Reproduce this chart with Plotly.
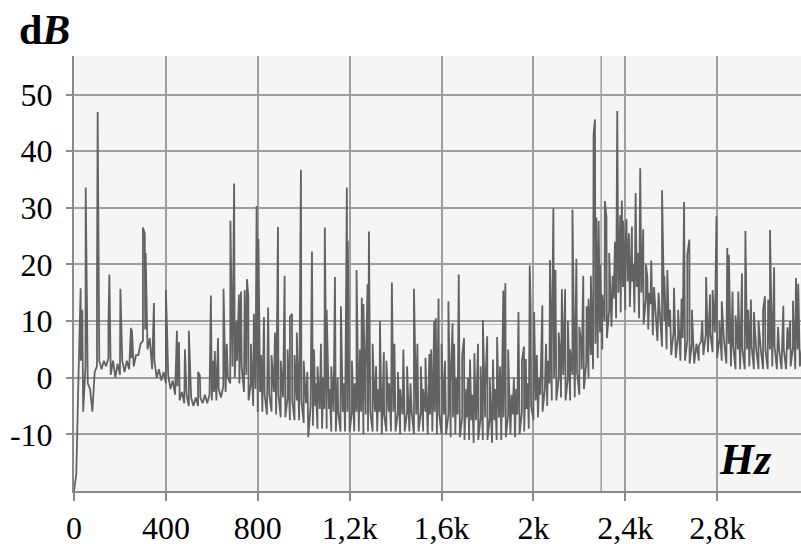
import plotly.graph_objects as go

# ---------------- data ----------------
# Spectrum floor: lower edge sampled at 0, 20, 40 ... Hz
BASE_STEP = 20
BASE_LO = [
    -20, 1, -6, -1, -6, 2, 1.5, 2, 0.5, 0,
    0.5, 1, 1.5, 2, 4, 6.5, 5, 1.5, 0, -0.5,
    -1, -2, -3, -4, -4.5, -5, -5, -5, -4.5, -4.5,
    -4, -4, -3.5, -2.5, -1, 0, -1, -2.5, -4, -5,
    -6, -6, -6.5, -6, -6.5, -7, -7, -7.5, -7.5, -7.5,
    -8, -10.5, -8.5, -9, -9, -9, -9.5, -9.5, -9.5, -9.5,
    -9.5, -9.5, -9.5, -10, -9.5, -9.5, -9.5, -10, -9.5, -9.5,
    -9.5, -10, -9.5, -9.5, -10, -9.5, -9.5, -10, -9.5, -10,
    -10, -10, -10.5, -10, -10.5, -11, -11, -11.5, -11, -11,
    -11, -11.5, -11, -11, -10.5, -10, -10.5, -10, -9.5, -9,
    -7.5, -7, -6, -5, -4, -4, -3.5, -4, -4, -3.5,
    -3, -2, 0, 1.5, 3.5, 5, 7, 9, 10.5, 11.5,
    12, 12.5, 11.5, 10.5, 9.5, 8.5, 7.5, 6.5, 5.5, 5,
    4, 3.5, 3, 3, 2.5, 2.5, 3, 4, 4.5, 4.5,
    3.5, 3, 2.5, 2, 1.5, 1.5, 1.5, 2, 1.5, 1.5,
    1.5, 1.5, 2, 1.5, 1.5, 1.5, 2, 1.5, 2, 2.5,
]
# upper edge of the dense band, sampled at 10, 30, 50 ... Hz
BASE_HI = [
    -17, 3, 2, -2, 1, 3, 3, 3.5, 3, 2.5,
    3, 3, 3.5, 4, 6, 8.5, 7, 3, 1.5, 1,
    0.5, -0.5, -1.5, -2.5, -3, -3.5, -3.5, -3.5, -3, -3,
    -2.5, -2, -1.5, 0, 2, 3, 2, 0.5, -1, -2,
    -2.5, -3, -3, -2.5, -3, -3.5, -3.5, -4, -4, -4,
    -4.5, -5, -5, -5.5, -5.5, -5.5, -6, -6, -6, -6,
    -6, -6, -6, -6.5, -6, -6, -6, -6.5, -6, -6,
    -6, -6.5, -6, -6, -6.5, -6, -6, -6.5, -6, -6.5,
    -6.5, -6.5, -7, -6.5, -7, -7, -7.5, -7.5, -7, -7,
    -7, -7.5, -7, -7, -6.5, -6.5, -6.5, -6, -5.5, -5,
    -4, -3, -2, -1, 0, 0, 0.5, 0, 0.5, 1,
    1.5, 2.5, 4, 6, 8, 10, 12, 14, 15, 16,
    17, 17, 16, 15, 14, 13, 12, 11, 10, 9,
    8, 7.5, 7, 6.5, 6, 6, 6.5, 7.5, 8, 8,
    7, 6.5, 6, 5.5, 5, 5, 5, 5.5, 5, 5,
    5, 5, 5.5, 5, 5, 5, 5.5, 5, 5.5, 5.5,
]

# harmonic / tonal peaks: frequency (Hz) and level (dB)
PEAK_HZ = [
    29, 36, 51, 57, 100, 103, 150, 154, 202, 248, 252, 300, 308, 312, 348, 400, 405,
    448, 457, 483, 500, 540, 548,
    596, 605, 613, 627, 651, 665, 681, 693, 697, 708, 718, 727, 743, 753, 759, 770,
    783, 795, 803, 815, 827, 845, 860, 875, 888, 900, 917, 930, 940, 949, 960, 970,
    988, 1000, 1016, 1036, 1045, 1052, 1060, 1075, 1085, 1092, 1100,
    1113, 1120, 1136, 1148, 1162, 1175, 1188, 1192, 1210, 1222, 1230, 1245, 1253,
    1260, 1270, 1278, 1284, 1300, 1315, 1325, 1332, 1349, 1360, 1372, 1384, 1395,
    1410, 1420, 1434, 1450, 1465, 1480, 1495, 1510, 1520, 1530, 1547, 1555, 1568,
    1575, 1587, 1600, 1615, 1630, 1640, 1648, 1655, 1665, 1675, 1690, 1698, 1708,
    1715, 1724, 1733, 1743, 1759, 1770, 1780, 1790, 1799, 1810, 1824, 1833, 1842,
    1855, 1862, 1869, 1878, 1890, 1905, 1915, 1925, 1935, 1950, 1959, 1967, 1975,
    1984, 1988, 2003, 2015, 2025, 2039, 2055, 2063, 2072, 2080, 2087, 2096, 2110,
    2117, 2124, 2138, 2150, 2160, 2170, 2187, 2200, 2208, 2217, 2232, 2240, 2250,
    2262, 2268, 2274, 2284, 2290, 2300, 2311, 2318, 2330, 2345, 2355, 2365, 2378,
    2385, 2391, 2400, 2405, 2416, 2429, 2435, 2445, 2455, 2465, 2478, 2490, 2496,
    2505, 2513, 2525, 2531, 2545, 2560, 2570, 2583, 2595, 2612, 2630, 2645, 2656,
    2670, 2679, 2690, 2720, 2735, 2752, 2769, 2780, 2797, 2810, 2820, 2844, 2851,
    2867, 2880, 2892, 2908, 2923, 2935, 2947, 2960, 2980, 3000, 3008, 3022, 3030,
    3048, 3065, 3088, 3106, 3118, 3130, 3143, 3153,
]
PEAK_DB = [
    15.8, 12, 33.6, 8, 14.7, 46.9, 10, 18.2, 15.7, 8.8, 8.5, 26.5, 25.5, 22, 13.2, 15.5, 8.6,
    8.3, 6.3, 5, 8.3, 1, 0.4,
    14.5, 3, 4.7, 7, 15.7, 6, 27.7, 26.5, 34.3, 10, 14.7, 15.2, 15.5, 17.4, 14.3, 6,
    11.3, 30.3, 24.5, 4, 10.7, 12.4, 4, 8, 26.6, 3, 18, 5, 10.7, 11.3, 4, 8,
    36.7, 3, 1, 22.3, 5, -1, 2, 6, 0, 26.5, 12,
    -2, 2, 17.8, 0, 12.6, -1, 33.6, 24.2, 3, -1, 19, 5, 14.1,
    13, 1, 16.5, 25.8, 6, 2, -2, 10, 4.5, 3, -1, 16.8, 6,
    1, -2, 5, 2, -1, 15.7, 6, 2, -2, 3.5, 4.2, 5, 10,
    10.5, 14, 6, 3, 13.5, -1, 9.6, 6, 0, 18.2, 4, 7, -2,
    0, 3.2, -3, 4.3, 6, 2, 10.2, -2, 7.3, 0, 3.2, -2, 7.2,
    2, -3, 15.4, 16.7, 5, -3, 0, -2, 11.6, 3, 5.5, 3.3, -1,
    19.8, 13, 11.6, 4, 0, 12.8, 6, 3, 20.8, 5, 29.9, 19, 8,
    4, 15.6, 15.6, 10, 5, 29.7, 21, 9, 6, 18, 12.6, 14, 18,
    43, 45.6, 28.3, 27.7, 20, 14.7, 31.2, 28.5, 22, 18, 24, 47.1, 28.7,
    31.3, 27.7, 22, 28, 25.5, 26.7, 20, 32.6, 22, 37, 26.2, 20, 17.8,
    15, 20.7, 16, 13.4, 15, 33.1, 18, 19, 12, 15.9, 12, 14, 31,
    21.8, 24.4, 12, 5.5, 10, 17.8, 14.7, 15.5, 28.5, 10, 13.5, 22.9, 21.7,
    15.2, 11, 15.2, 18.4, 25.9, 12, 13.8, 11.6, 10, 12, 14.4, 13.8, 26.1,
    19.5, 9, 12.7, 8.9, 10, 13.6, 17.6, 16.6,
]

X_TICKS = [0, 400, 800, 1200, 1600, 2000, 2400, 2800]
X_LABELS = ["0", "400", "800", "1,2k", "1,6k", "2k", "2,4k", "2,8k"]
Y_TICKS = [-10, 0, 10, 20, 30, 40, 50]
Y_LABELS = ["-10", "0", "10", "20", "30", "40", "50"]
X_RANGE = [0, 3165]
Y_RANGE = [-20, 56.8]
EXTRA_VGRID = [2295]   # extra grid line visible in the reference
EXTRA_HGRID = [9.4]

# ---------------- build trace ----------------
pts = []
for i, v in enumerate(BASE_LO):
    pts.append((i * BASE_STEP, v))
for i, v in enumerate(BASE_HI):
    pts.append((i * BASE_STEP + BASE_STEP // 2, v))
for f, v in zip(PEAK_HZ, PEAK_DB):
    pts.append((f, v))
pts.sort(key=lambda p: p[0])
xs = [p[0] for p in pts]
ys = [p[1] for p in pts]

SERIF = "Liberation Serif, Times New Roman, serif"
GRID = "#9e9e9e"

fig = go.Figure()
fig.add_trace(go.Scatter(x=xs, y=ys, mode="lines",
                         line=dict(color="#626262", width=1.8),
                         hoverinfo="skip", showlegend=False))

for xv in EXTRA_VGRID:
    fig.add_shape(type="line", xref="x", yref="paper", x0=xv, x1=xv, y0=0, y1=1,
                  line=dict(color=GRID, width=1.5), layer="below")
for yv in EXTRA_HGRID:
    fig.add_shape(type="line", xref="paper", yref="y", x0=0, x1=1, y0=yv, y1=yv,
                  line=dict(color="#b5b5b5", width=1.2), layer="below")

fig.update_layout(
    width=801, height=546,
    margin=dict(l=74, r=0, t=56, b=49),
    paper_bgcolor="white", plot_bgcolor="#f5f5f5",
    showlegend=False,
    xaxis=dict(range=X_RANGE, tickvals=X_TICKS, ticktext=X_LABELS,
               showgrid=True, gridcolor=GRID, gridwidth=1.5, zeroline=False,
               showline=True, linecolor="#8a8a8a", linewidth=2,
               ticks="outside", ticklen=8, tickwidth=1.5, tickcolor="#8a8a8a",
               tickfont=dict(family=SERIF, size=32, color="black")),
    yaxis=dict(range=Y_RANGE, tickvals=Y_TICKS, ticktext=Y_LABELS,
               showgrid=True, gridcolor=GRID, gridwidth=1.5, zeroline=False,
               showline=True, linecolor="#8a8a8a", linewidth=2,
               ticks="outside", ticklen=6, tickwidth=1.5, tickcolor="#8a8a8a",
               ticklabelstandoff=7,
               tickfont=dict(family=SERIF, size=32, color="black")),
    annotations=[
        dict(text="<b>d<i>B</i></b>", xref="paper", yref="paper",
             x=-0.079, y=1.06, xanchor="left", yanchor="middle", showarrow=False,
             font=dict(family=SERIF, size=42, color="black")),
        dict(text="<b><i>Hz</i></b>", xref="x", yref="y",
             x=2921, y=-14.4, xanchor="center", yanchor="middle", showarrow=False,
             font=dict(family=SERIF, size=44, color="black")),
    ],
)

fig.write_html("out.html")
